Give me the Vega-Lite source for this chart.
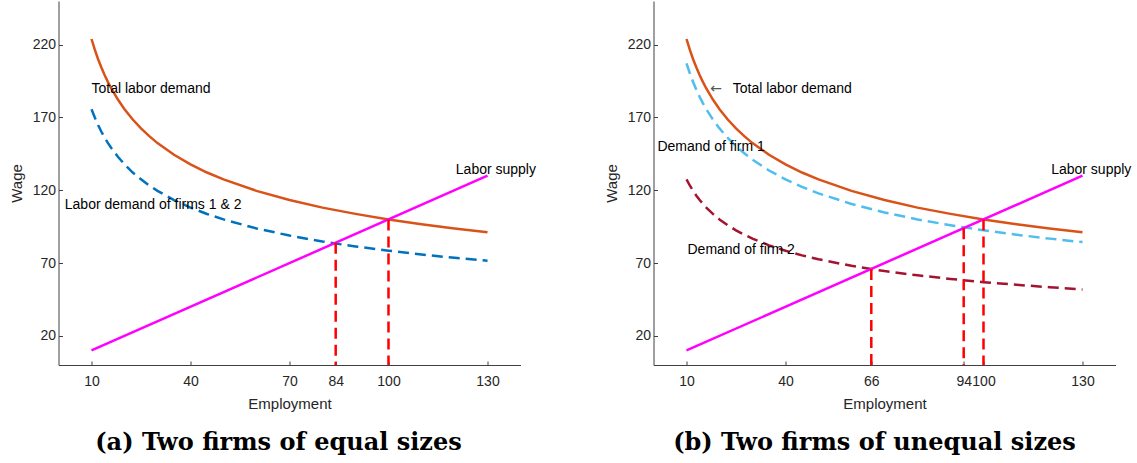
{
  "$schema": "https://vega.github.io/schema/vega-lite/v6.json",
  "background": "white",
  "padding": {"left": 8.5, "top": 1, "right": 5, "bottom": 5},
  "bounds": "flush",
  "spacing": 133,
  "config": {
    "view": {"stroke": null},
    "font": "Liberation Sans",
    "axis": {
      "grid": false,
      "domainColor": "#404040",
      "domainWidth": 1,
      "tickColor": "#404040",
      "tickSize": -4,
      "labelFont": "Liberation Sans",
      "labelFontSize": 14,
      "labelColor": "#262626",
      "labelOverlap": false,
      "labelFlush": false,
      "titleFont": "Liberation Sans",
      "titleFontSize": 15,
      "titleFontWeight": "normal",
      "titleColor": "#262626"
    },
    "axisX": {"labelPadding": 13, "titlePadding": 8},
    "axisY": {"labelPadding": 7, "titlePadding": 8},
    "title": {"font": "DejaVu Serif", "fontSize": 24, "fontWeight": "bold", "color": "#000000"}
  },
  "datasets": {
    "supply": [
      {"x": 10, "w": 10},
      {"x": 130, "w": 130}
    ],
    "total": [
      {"x": 10, "w": 223.9}, {"x": 11, "w": 216.6}, {"x": 12, "w": 210.0}, {"x": 13, "w": 204.3}, {"x": 14, "w": 199.0},
      {"x": 15, "w": 194.3}, {"x": 16, "w": 189.9}, {"x": 18, "w": 182.3}, {"x": 20, "w": 175.7}, {"x": 22.5, "w": 168.6},
      {"x": 25, "w": 162.5}, {"x": 27.5, "w": 157.2}, {"x": 30, "w": 152.4}, {"x": 35, "w": 144.4}, {"x": 40, "w": 137.8},
      {"x": 45, "w": 132.2}, {"x": 50, "w": 127.5}, {"x": 60, "w": 119.6}, {"x": 70, "w": 113.3}, {"x": 80, "w": 108.1},
      {"x": 90, "w": 103.8}, {"x": 100, "w": 100.0}, {"x": 110, "w": 96.7}, {"x": 120, "w": 93.8}, {"x": 130, "w": 91.2}
    ],
    "firms": [
      {"x": 10, "w": 175.7}, {"x": 11, "w": 170.0}, {"x": 12, "w": 164.8}, {"x": 13, "w": 160.2}, {"x": 14, "w": 156.1},
      {"x": 15, "w": 152.4}, {"x": 16, "w": 149.0}, {"x": 18, "w": 143.0}, {"x": 20, "w": 137.8}, {"x": 22.5, "w": 132.2},
      {"x": 25, "w": 127.5}, {"x": 27.5, "w": 123.3}, {"x": 30, "w": 119.6}, {"x": 35, "w": 113.3}, {"x": 40, "w": 108.1},
      {"x": 45, "w": 103.7}, {"x": 50, "w": 100.0}, {"x": 60, "w": 93.8}, {"x": 70, "w": 88.9}, {"x": 80, "w": 84.8},
      {"x": 90, "w": 81.4}, {"x": 100, "w": 78.5}, {"x": 110, "w": 75.9}, {"x": 120, "w": 73.6}, {"x": 130, "w": 71.6}
    ],
    "firm1": [
      {"x": 10, "w": 207.1}, {"x": 11, "w": 200.4}, {"x": 12, "w": 194.3}, {"x": 13, "w": 189.0}, {"x": 14, "w": 184.1},
      {"x": 15, "w": 179.7}, {"x": 16, "w": 175.7}, {"x": 18, "w": 168.6}, {"x": 20, "w": 162.5}, {"x": 22.5, "w": 156.0},
      {"x": 25, "w": 150.2}, {"x": 27.5, "w": 145.4}, {"x": 30, "w": 141.0}, {"x": 35, "w": 133.6}, {"x": 40, "w": 127.5},
      {"x": 45, "w": 122.3}, {"x": 50, "w": 117.9}, {"x": 60, "w": 110.6}, {"x": 70, "w": 104.8}, {"x": 80, "w": 100.0},
      {"x": 90, "w": 96.0}, {"x": 100, "w": 92.5}, {"x": 110, "w": 89.5}, {"x": 120, "w": 86.8}, {"x": 130, "w": 84.4}
    ],
    "firm2": [
      {"x": 10, "w": 127.5}, {"x": 11, "w": 123.3}, {"x": 12, "w": 119.6}, {"x": 13, "w": 116.3}, {"x": 14, "w": 113.3},
      {"x": 15, "w": 110.6}, {"x": 16, "w": 108.1}, {"x": 18, "w": 103.8}, {"x": 20, "w": 100.0}, {"x": 22.5, "w": 96.0},
      {"x": 25, "w": 92.5}, {"x": 27.5, "w": 89.5}, {"x": 30, "w": 86.8}, {"x": 35, "w": 82.2}, {"x": 40, "w": 78.5},
      {"x": 45, "w": 75.3}, {"x": 50, "w": 72.6}, {"x": 60, "w": 68.1}, {"x": 70, "w": 64.5}, {"x": 80, "w": 61.6},
      {"x": 90, "w": 59.1}, {"x": 100, "w": 56.9}, {"x": 110, "w": 55.1}, {"x": 120, "w": 53.4}, {"x": 130, "w": 51.9}
    ],
    "dropsA": [
      {"x": 84, "w": 84},
      {"x": 100, "w": 100}
    ],
    "dropsB": [
      {"x": 66, "w": 66},
      {"x": 94, "w": 94},
      {"x": 100, "w": 100}
    ],
    "notesA": [
      {"x": 10, "w": 189.5, "label": "Total labor demand"},
      {"x": 1.9, "w": 110, "label": "Labor demand of firms 1 & 2"},
      {"x": 120.4, "w": 134, "label": "Labor supply"}
    ],
    "arrowB": [
      {"x": 17.2, "w": 189.5, "label": "←"}
    ],
    "notesB": [
      {"x": 24, "w": 189.5, "label": "Total labor demand"},
      {"x": 1.2, "w": 149.4, "label": "Demand of firm 1"},
      {"x": 10.3, "w": 79.1, "label": "Demand of firm 2"},
      {"x": 120.5, "w": 134, "label": "Labor supply"}
    ]
  },
  "hconcat": [
    {
      "width": 462,
      "height": 364,
      "title": {"text": "(a) Two firms of equal sizes", "orient": "bottom", "frame": "group", "anchor": "middle", "offset": 20, "dx": -11},
      "layer": [
        {
          "data": {"name": "total"},
          "mark": {"type": "line", "strokeWidth": 2.5, "color": "#D95319"},
          "encoding": {
            "x": {
              "field": "x", "type": "quantitative",
              "scale": {"domain": [0, 140], "nice": false, "zero": false},
              "axis": {"title": "Employment", "values": [10, 40, 70, 84, 100, 130]}
            },
            "y": {
              "field": "w", "type": "quantitative",
              "scale": {"domain": [0, 250], "nice": false, "zero": false},
              "axis": {"title": "Wage", "values": [20, 70, 120, 170, 220]}
            }
          }
        },
        {
          "data": {"name": "firms"},
          "mark": {"type": "line", "strokeWidth": 2.5, "color": "#0072BD", "strokeDash": [11, 6]},
          "encoding": {
            "x": {"field": "x", "type": "quantitative"},
            "y": {"field": "w", "type": "quantitative"}
          }
        },
        {
          "data": {"name": "supply"},
          "mark": {"type": "line", "strokeWidth": 2.5, "color": "#FF00FF"},
          "encoding": {
            "x": {"field": "x", "type": "quantitative"},
            "y": {"field": "w", "type": "quantitative"}
          }
        },
        {
          "data": {"name": "dropsA"},
          "mark": {"type": "rule", "color": "#FF0000", "strokeWidth": 2.5, "strokeDash": [11, 6]},
          "encoding": {
            "x": {"field": "x", "type": "quantitative"},
            "y": {"field": "w", "type": "quantitative"},
            "y2": {"datum": 0}
          }
        },
        {
          "data": {"name": "notesA"},
          "mark": {"type": "text", "align": "left", "baseline": "middle", "font": "Liberation Sans", "fontSize": 14, "color": "#000000"},
          "encoding": {
            "x": {"field": "x", "type": "quantitative"},
            "y": {"field": "w", "type": "quantitative"},
            "text": {"field": "label", "type": "nominal"}
          }
        }
      ]
    },
    {
      "width": 462,
      "height": 364,
      "title": {"text": "(b) Two firms of unequal sizes", "orient": "bottom", "frame": "group", "anchor": "middle", "offset": 20, "dx": -10},
      "layer": [
        {
          "data": {"name": "total"},
          "mark": {"type": "line", "strokeWidth": 2.5, "color": "#D95319"},
          "encoding": {
            "x": {
              "field": "x", "type": "quantitative",
              "scale": {"domain": [0, 140], "nice": false, "zero": false},
              "axis": {"title": "Employment", "values": [10, 40, 66, 94, 100, 130]}
            },
            "y": {
              "field": "w", "type": "quantitative",
              "scale": {"domain": [0, 250], "nice": false, "zero": false},
              "axis": {"title": "Wage", "values": [20, 70, 120, 170, 220]}
            }
          }
        },
        {
          "data": {"name": "firm1"},
          "mark": {"type": "line", "strokeWidth": 2.5, "color": "#4DBEEE", "strokeDash": [11, 6]},
          "encoding": {
            "x": {"field": "x", "type": "quantitative"},
            "y": {"field": "w", "type": "quantitative"}
          }
        },
        {
          "data": {"name": "firm2"},
          "mark": {"type": "line", "strokeWidth": 2.5, "color": "#A2142F", "strokeDash": [11, 6]},
          "encoding": {
            "x": {"field": "x", "type": "quantitative"},
            "y": {"field": "w", "type": "quantitative"}
          }
        },
        {
          "data": {"name": "supply"},
          "mark": {"type": "line", "strokeWidth": 2.5, "color": "#FF00FF"},
          "encoding": {
            "x": {"field": "x", "type": "quantitative"},
            "y": {"field": "w", "type": "quantitative"}
          }
        },
        {
          "data": {"name": "dropsB"},
          "mark": {"type": "rule", "color": "#FF0000", "strokeWidth": 2.5, "strokeDash": [11, 6]},
          "encoding": {
            "x": {"field": "x", "type": "quantitative"},
            "y": {"field": "w", "type": "quantitative"},
            "y2": {"datum": 0}
          }
        },
        {
          "data": {"name": "arrowB"},
          "mark": {"type": "text", "align": "left", "baseline": "middle", "font": "DejaVu Sans", "fontSize": 14, "color": "#555555"},
          "encoding": {
            "x": {"field": "x", "type": "quantitative"},
            "y": {"field": "w", "type": "quantitative"},
            "text": {"field": "label", "type": "nominal"}
          }
        },
        {
          "data": {"name": "notesB"},
          "mark": {"type": "text", "align": "left", "baseline": "middle", "font": "Liberation Sans", "fontSize": 14, "color": "#000000"},
          "encoding": {
            "x": {"field": "x", "type": "quantitative"},
            "y": {"field": "w", "type": "quantitative"},
            "text": {"field": "label", "type": "nominal"}
          }
        }
      ]
    }
  ]
}
